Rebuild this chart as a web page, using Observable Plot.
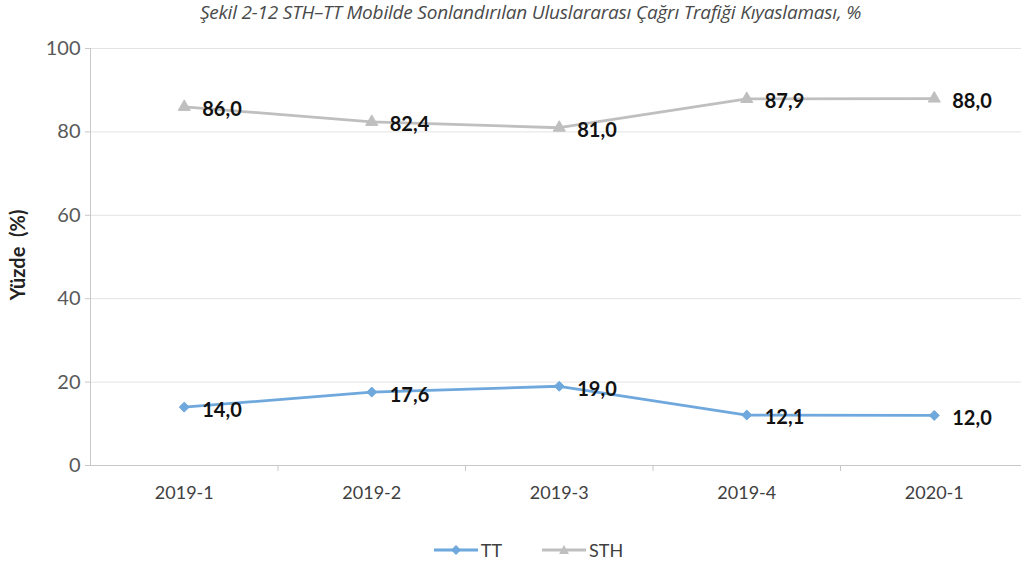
<!DOCTYPE html>
<html><head><meta charset="utf-8">
<script src="https://cdn.jsdelivr.net/npm/d3@7"></script>
<script src="https://cdn.jsdelivr.net/npm/@observablehq/plot@0.6"></script>
<style>
body{margin:0;background:#fff;width:1021px;height:565px;overflow:hidden;font-family:Lato,"Open Sans",sans-serif;}
#title{height:26px;line-height:24px;text-align:center;font-family:"Open Sans",sans-serif;font-style:italic;font-size:19px;color:#4a4a4a;padding-left:40px;letter-spacing:-0.2px;}
#chart svg{display:block;overflow:visible;}
#legend{display:flex;justify-content:center;align-items:center;gap:40px;height:28px;font-size:18px;color:#404040;padding-left:36px;}
#legend span{display:flex;align-items:center;gap:3px;}
</style></head>
<body>
<div id="title">Şekil 2-12 STH–TT Mobilde Sonlandırılan Uluslararası Çağrı Trafiği Kıyaslaması, %</div>
<div id="chart"></div>
<div id="legend"></div>
<script>
const categories = ["2019-1","2019-2","2019-3","2019-4","2020-1"];
const ttValues  = [14.0, 17.6, 19.0, 12.1, 12.0];
const sthValues = [86.0, 82.4, 81.0, 87.9, 88.0];
const seriesNames = ["TT","STH"];
const seriesColors = ["#6fa8dc","#bfbfbf"];
const seriesSymbols = ["diamond2","triangle"];
const yTicks = [0,20,40,60,80,100];

const data = [];
categories.forEach((c,i)=>{
  data.push({i, cat:c, series:"TT", value:ttValues[i]});
  data.push({i, cat:c, series:"STH", value:sthValues[i]});
});
const fmt = v => v.toFixed(1).replace(".", ",");
const idx = categories.map((_,i)=>i);
const bounds = categories.slice(1).map((_,i)=>i+0.5);

const chart = Plot.plot({
  width:1021, height:510,
  marginLeft:90, marginRight:0, marginTop:22, marginBottom:71,
  style:{fontFamily:"Lato, 'Open Sans', sans-serif", fontSize:"16px", color:"#595959", background:"#fff"},
  x:{domain:[-0.5, categories.length-0.5], range:[90, 1027.5]},
  y:{domain:[0,100]},
  color:{domain:seriesNames, range:seriesColors},
  symbol:{domain:seriesNames, range:seriesSymbols},
  marks:[
    Plot.ruleY(yTicks.filter(d=>d>0), {stroke:"#e3e3e3", strokeWidth:1}),
    Plot.ruleY([0], {stroke:"#c8c8c8", strokeWidth:1}),
    Plot.ruleX([-0.5], {y1:0, y2:100, stroke:"#c8c8c8", strokeWidth:1}),
    Plot.axisY({ticks:yTicks, tickSize:5, tickPadding:5, stroke:"#c8c8c8", label:null, fontSize:20, fill:"#595959"}),
    Plot.axisX({ticks:idx, tickFormat:i=>categories[i], tickSize:0, tickPadding:21, label:null, fontSize:18, fill:"#404040"}),
    Plot.axisX({ticks:bounds, tickFormat:()=>"", tickSize:6, stroke:"#c8c8c8", label:null}),
    Plot.line(data, {x:"i", y:"value", z:"series", stroke:"series", strokeWidth:2.8}),
    Plot.dot(data, {x:"i", y:"value", symbol:"series", fill:"series", stroke:"series", strokeWidth:1, r:4.5}),
    Plot.text(data, {x:"i", y:"value", text:d=>fmt(d.value), dx:18, dy:3, textAnchor:"start", fill:"#111", fontWeight:"bold", fontSize:20}),
    Plot.text(["Yüzde  (%)"], {frameAnchor:"left", dx:-72, y:50.5, text:d=>d, rotate:-90, textAnchor:"middle", fontWeight:"bold", fontSize:20, fill:"#222"})
  ]
});
document.getElementById("chart").appendChild(chart);

const legend = document.getElementById("legend");
seriesNames.forEach((n,k)=>{
  const s = document.createElement("span");
  const sym = k===0
    ? `<path d="M22,3 L27,8 L22,13 L17,8 Z" fill="${seriesColors[k]}"/>`
    : `<path d="M22,3 L27,12 L17,12 Z" fill="${seriesColors[k]}"/>`;
  s.innerHTML = `<svg width="44" height="16"><line x1="0" x2="44" y1="8" y2="8" stroke="${seriesColors[k]}" stroke-width="2.8"/>${sym}</svg><span>${n}</span>`;
  legend.appendChild(s);
});
</script>
</body></html>
